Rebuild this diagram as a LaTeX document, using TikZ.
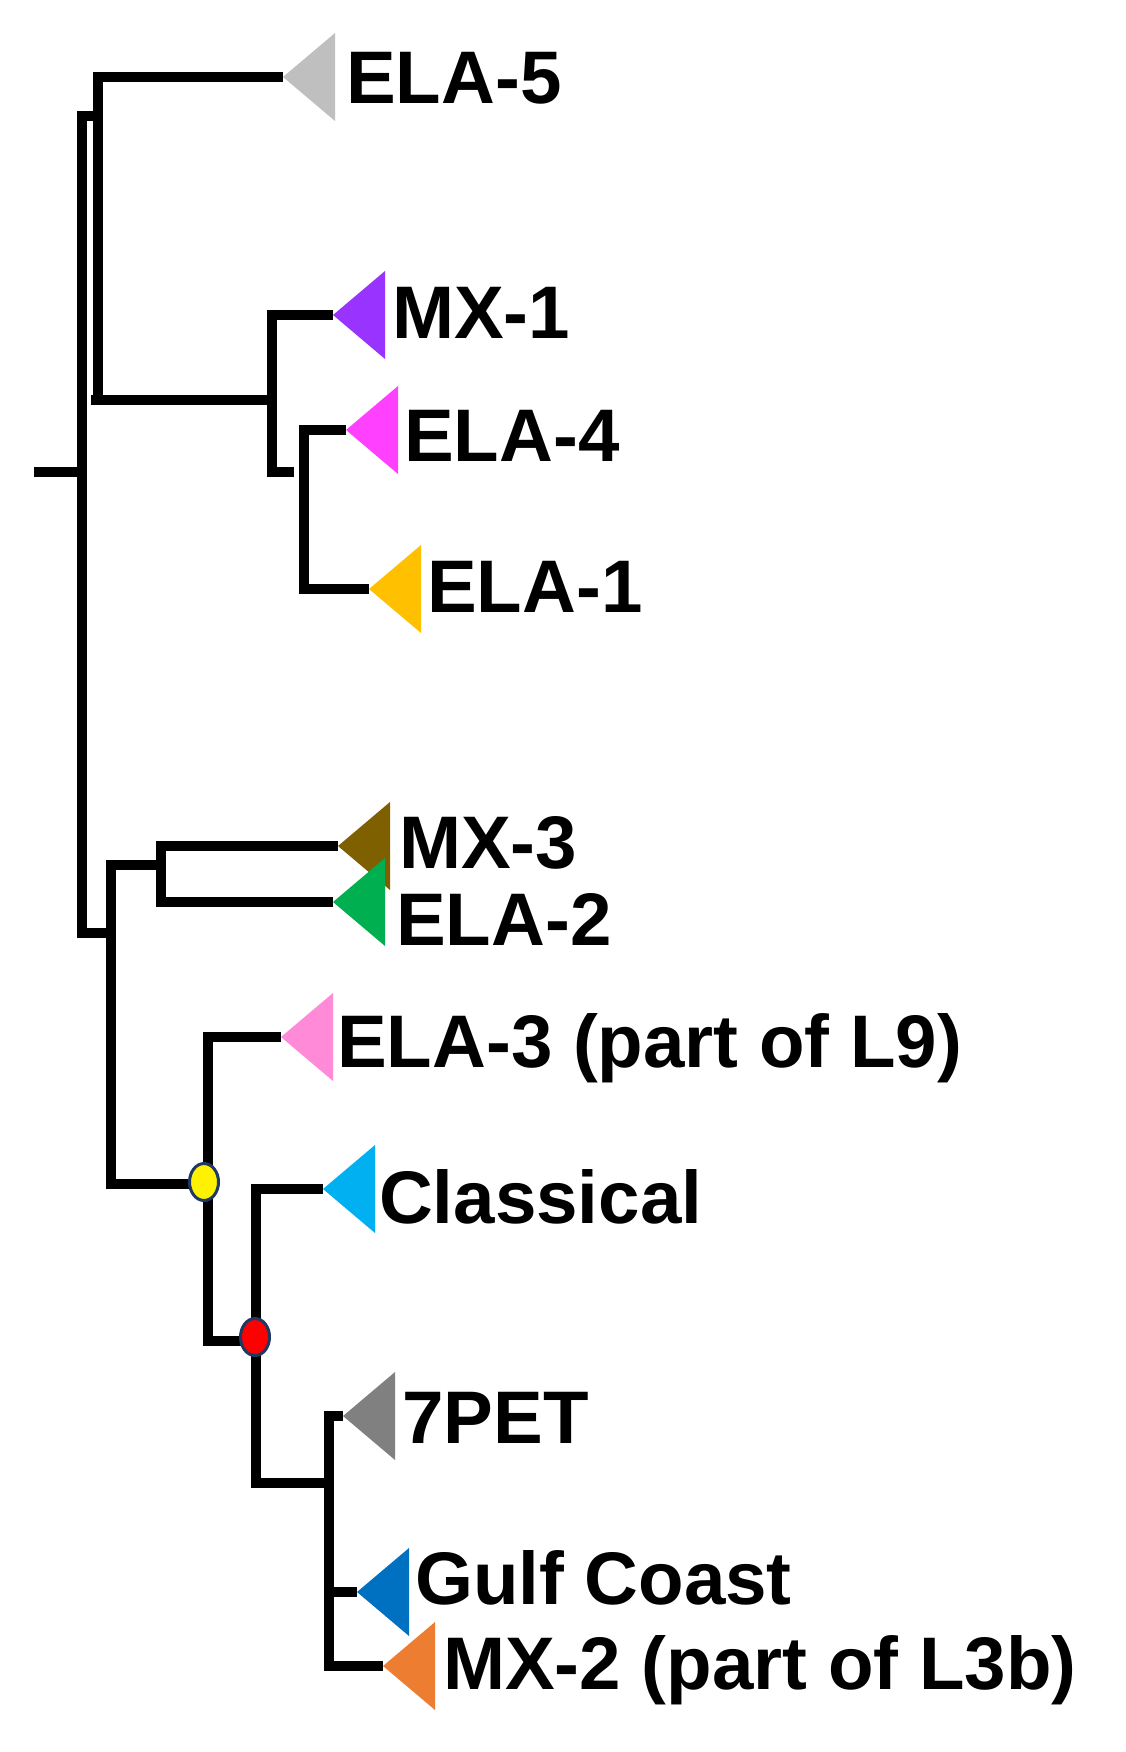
\documentclass[tikz,border=0pt]{standalone}
\usepackage{fontspec}
\setmainfont{Liberation Sans}
\usetikzlibrary{shapes.geometric}
\definecolor{cE5}{HTML}{BFBFBF}
\definecolor{cM1}{HTML}{9933FF}
\definecolor{cE4}{HTML}{FF40FF}
\definecolor{cE1}{HTML}{FFC000}
\definecolor{cM3}{HTML}{7F6000}
\definecolor{cE2}{HTML}{00B050}
\definecolor{cE3}{HTML}{FF8AD8}
\definecolor{cCl}{HTML}{00B0F0}
\definecolor{c7P}{HTML}{808080}
\definecolor{cGC}{HTML}{0070C0}
\definecolor{cM2}{HTML}{ED7D31}
\definecolor{dotline}{HTML}{203864}
\tikzset{
  branch/.style={line width=10pt, line join=miter, black},
  lbl/.style={anchor=base west, inner sep=0pt, font=\fontsize{74.5}{80}\selectfont\bfseries},
  dotnode/.style={ellipse, draw=dotline, line width=3pt, minimum width=29pt, minimum height=37pt, inner sep=0pt},
}
\newcommand{\cladetri}[2]{\fill[#2] (#1) -- ++(52,-44) -- ++(0,88) -- cycle;}
\begin{document}
\begin{tikzpicture}[x=1pt,y=-1pt]
\useasboundingbox (0,0) rectangle (1126,1752);
% tips
\coordinate (tE5) at (283,77);
\coordinate (tM1) at (333,315);
\coordinate (tE4) at (346,430);
\coordinate (tE1) at (369,589);
\coordinate (tM3) at (338,846);
\coordinate (tE2) at (333,902);
\coordinate (tE3) at (281,1037);
\coordinate (tCl) at (323,1189);
\coordinate (t7P) at (343,1416);
\coordinate (tGC) at (357,1592);
\coordinate (tM2) at (383,1666);
% upper clade
\draw[branch] (34,472) -- (87,472);
\draw[branch] (82,111) -- (82,938);
\draw[branch] (82,116) -- (98,116);
\draw[branch] (98,400) |- (tE5);
\draw[branch] (91,400) -- (277,400);
\draw[branch] (294,472) -- (272,472) |- (tM1);
\draw[branch] (tE4) -| (304,589) -- (tE1);
% lower clade
\draw[branch] (82,933) -- (111,933);
\draw[branch] (111,1189) -- (111,865) -- (161,865);
\draw[branch] (tM3) -| (161,902) -- (tE2);
\draw[branch] (107,1184) -- (204,1184);
\draw[branch] (tE3) -| (208,1341) -- (255,1341);
\draw[branch] (329,1483) -- (256,1483) |- (tCl);
\draw[branch] (t7P) -| (329,1666) -- (tM2);
\draw[branch] (329,1592) -- (tGC);
% dots
\node[dotnode, fill=yellow] (yellowdot) at (204,1182) {};
\node[dotnode, fill=red] (reddot) at (255,1337) {};
% triangles
\cladetri{tE5}{cE5}
\cladetri{tM1}{cM1}
\cladetri{tE4}{cE4}
\cladetri{tE1}{cE1}
\cladetri{tM3}{cM3}
\cladetri{tE2}{cE2}
\cladetri{tE3}{cE3}
\cladetri{tCl}{cCl}
\cladetri{t7P}{c7P}
\cladetri{tGC}{cGC}
\cladetri{tM2}{cM2}
% labels
\node[lbl] (lE5) at (346,104) {ELA-5};
\node[lbl] (lM1) at (392,338) {MX-1};
\node[lbl] (lE4) at (404,461) {ELA-4};
\node[lbl] (lE1) at (427,612) {ELA-1};
\node[lbl] (lM3) at (399,868) {MX-3};
\node[lbl] (lE2) at (396,945) {ELA-2};
\node[lbl] (lE3) at (337,1067) {ELA-3 (part of L9)};
\node[lbl] (lCl) at (379,1223) {Classical};
\node[lbl] (l7P) at (402,1443) {7PET};
\node[lbl] (lGC) at (415,1604) {Gulf Coast};
\node[lbl] (lM2) at (443,1689) {MX-2 (part of L3b)};
\end{tikzpicture}
\end{document}
